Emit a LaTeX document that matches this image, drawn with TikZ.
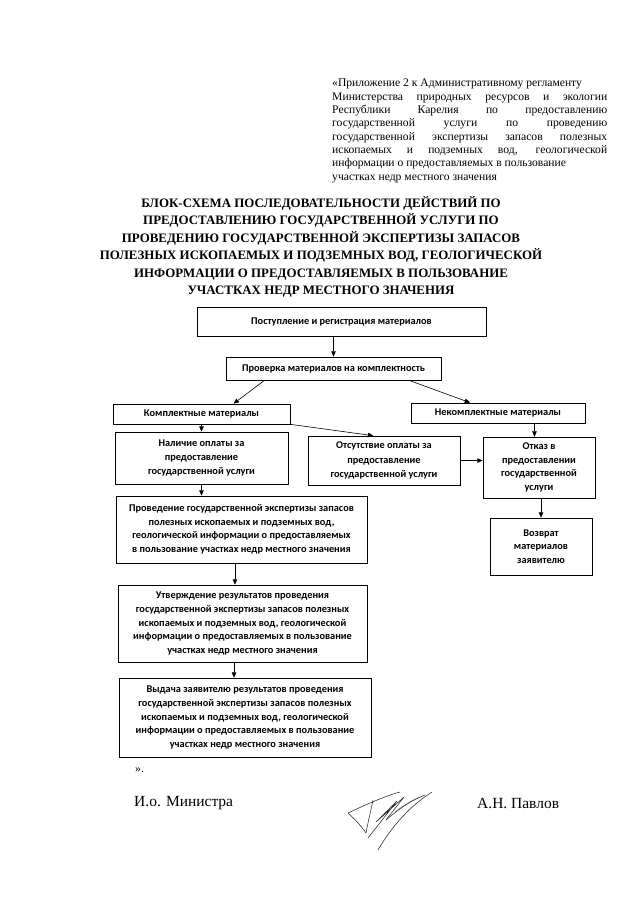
\documentclass[tikz,border=0pt]{standalone}
\usepackage{fontspec}
\setmainfont{Liberation Serif}
\newfontfamily\boxfont{Carlito}
\usetikzlibrary{arrows.meta,calc}
\tikzset{
  box/.style={draw=black, line width=0.6pt, inner sep=0pt, align=center,
    font=\boxfont\bfseries\fontsize{9.6}{12.6}\selectfont},
  arr/.style={draw=black, line width=0.55pt, -{Triangle[length=5pt,width=4.2pt]}},
  sig/.style={draw=black!85, line width=0.5pt, line cap=round}
}
\begin{document}
\begin{tikzpicture}[x=0.9301pt,y=-0.9301pt]
\useasboundingbox[fill=white] (0,0) rectangle (640,905);
% header paragraph
\node[anchor=north west, inner sep=0pt, align=left,
  font=\fontsize{10.8}{12.4}\selectfont] (hdr) at (332,79) {%
«Приложение 2 к Административному регламенту\\
\makebox[255.8pt][s]{Министерства природных ресурсов и экологии}\\
\makebox[255.8pt][s]{Республики Карелия по предоставлению}\\
\makebox[255.8pt][s]{государственной услуги по проведению}\\
\makebox[255.8pt][s]{государственной экспертизы запасов полезных}\\
\makebox[255.8pt][s]{ископаемых и подземных вод, геологической}\\
информации о предоставляемых в пользование\\
участках недр местного значения};
% title
\node[align=center, inner sep=0pt, font=\bfseries\fontsize{12}{16.2}\selectfont] (title) at (321,247) {%
БЛОК-СХЕМА ПОСЛЕДОВАТЕЛЬНОСТИ ДЕЙСТВИЙ ПО\\
ПРЕДОСТАВЛЕНИЮ ГОСУДАРСТВЕННОЙ УСЛУГИ ПО\\
ПРОВЕДЕНИЮ ГОСУДАРСТВЕННОЙ ЭКСПЕРТИЗЫ ЗАПАСОВ\\
ПОЛЕЗНЫХ ИСКОПАЕМЫХ И ПОДЗЕМНЫХ ВОД, ГЕОЛОГИЧЕСКОЙ\\
ИНФОРМАЦИИ О ПРЕДОСТАВЛЯЕМЫХ В ПОЛЬЗОВАНИЕ\\
УЧАСТКАХ НЕДР МЕСТНОГО ЗНАЧЕНИЯ};
% boxes
\node[box, minimum width=289*0.9301pt, minimum height=29*0.9301pt] (b1) at (341.5,321.5) {Поступление и регистрация материалов};
\node[box, minimum width=215*0.9301pt, minimum height=23*0.9301pt] (b2) at (333.5,368.5) {Проверка материалов на комплектность};
\node[box, minimum width=177*0.9301pt, minimum height=20*0.9301pt] (b3) at (201.5,414) {Комплектные материалы};
\node[box, minimum width=174*0.9301pt, minimum height=20*0.9301pt] (b4) at (498,413) {Некомплектные материалы};
\node[box, minimum width=173*0.9301pt, minimum height=52*0.9301pt, font=\boxfont\bfseries\fontsize{9.6}{13.4}\selectfont] (b5) at (201.5,458) {Наличие оплаты за\\предоставление\\государственной услуги};
\node[box, minimum width=152*0.9301pt, minimum height=49*0.9301pt, font=\boxfont\bfseries\fontsize{9.6}{13.4}\selectfont] (b6) at (384,460.5) {Отсутствие оплаты за\\предоставление\\государственной услуги};
\node[box, minimum width=112*0.9301pt, minimum height=61*0.9301pt] (b7) at (539,467.5) {Отказ в\\предоставлении\\государственной\\услуги};
\node[box, minimum width=102*0.9301pt, minimum height=57*0.9301pt] (b8) at (541,546.5) {Возврат\\материалов\\заявителю};
\node[box, minimum width=251*0.9301pt, minimum height=67*0.9301pt] (b9) at (241.5,529.5) {Проведение государственной экспертизы запасов\\полезных ископаемых и подземных вод,\\геологической информации о предоставляемых\\в пользование участках недр местного значения};
\node[box, minimum width=249*0.9301pt, minimum height=77*0.9301pt] (b10) at (242.5,623.5) {Утверждение результатов проведения\\государственной экспертизы запасов полезных\\ископаемых и подземных вод, геологической\\информации о предоставляемых в пользование\\участках недр местного значения};
\node[box, minimum width=252*0.9301pt, minimum height=79*0.9301pt] (b11) at (245,717.5) {Выдача заявителю результатов проведения\\государственной экспертизы запасов полезных\\ископаемых и подземных вод, геологической\\информации о предоставляемых в пользование\\участках недр местного значения};
% connectors
\draw[arr] (b1.south -| b2.north) -- (b2.north);
\coordinate (s23) at ($(b2.south west)!0.18!(b2.south east)$);
\coordinate (e23) at ($(b3.north west)!0.68!(b3.north east)$);
\draw[arr] (s23) -- (e23);
\coordinate (s24) at ($(b2.south west)!0.85!(b2.south east)$);
\coordinate (e24) at ($(b4.north west)!0.34!(b4.north east)$);
\draw[arr] (s24) -- (e24);
\draw[arr] (b3.south) -- (b5.north);
\coordinate (e36) at ($(b6.north west)!0.43!(b6.north east)$);
\draw[arr] (b3.south east) -- (e36);
\coordinate (e47) at ($(b7.north west)!0.46!(b7.north east)$);
\draw[arr] (b4.south -| e47) -- (e47);
\draw[arr] (b6.east) -- (b6.east -| b7.west);
\draw[arr] (b5.south) -- (b5.south |- b9.north);
\draw[arr] (b7.south -| b8.north) -- (b8.north);
\coordinate (s910) at ($(b9.south west)!0.474!(b9.south east)$);
\draw[arr] (s910) -- (s910 |- b10.north);
\coordinate (s1011) at ($(b10.south west)!0.466!(b10.south east)$);
\draw[arr] (s1011) -- (s1011 |- b11.north);
% footer
\node[anchor=west, inner sep=0pt, font=\fontsize{11}{13}\selectfont] (endq) at (135,770) {».};
\node[anchor=west, inner sep=0pt, font=\fontsize{14.4}{16}\selectfont] (minister) at (134,803) {И.о. Министра};
\node[anchor=west, inner sep=0pt, font=\fontsize{14.4}{16}\selectfont] (pavlov) at (477,803) {А.Н. Павлов};
% signature
\draw[sig] (348,813) .. controls (365,805) and (385,796) .. (400,792);
\draw[sig] (348,813) .. controls (356,820) and (361,826) .. (366,833);
\draw[sig] (366,833) .. controls (368,822) and (371,810) .. (373,800);
\draw[sig] (378,850) .. controls (392,826) and (410,806) .. (432,792);
\draw[sig] (368,838) -- (397,801) -- (376,822) -- (404,797) -- (386,820);
\draw[sig] (386,820) .. controls (400,808) and (412,800) .. (425,795);
\draw[sig, draw=black!60] (395,812) .. controls (405,804) and (415,799) .. (420,797);
\end{tikzpicture}
\end{document}
